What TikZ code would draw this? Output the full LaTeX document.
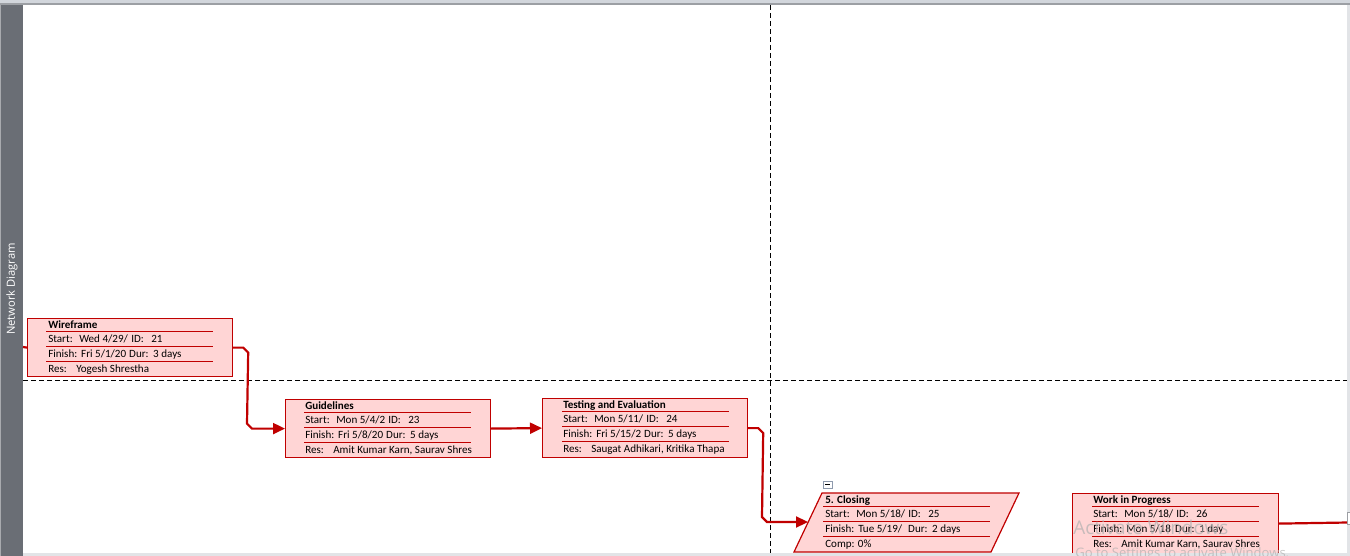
\documentclass[tikz,border=0pt]{standalone}
\usepackage{fontspec}
\setmainfont{Carlito}
\newfontfamily\uifont{Open Sans}
\usetikzlibrary{arrows.meta,calc}

% one screen pixel
\newdimen\pxu \pxu=0.75pt

\definecolor{taskred}{HTML}{C00000}
\definecolor{taskfill}{HTML}{FFD5D5}
\definecolor{sidebar}{HTML}{6A6E75}
\definecolor{sideedge}{HTML}{A8AAAE}
\definecolor{chrome}{HTML}{D2D6DC}
\definecolor{chromeline}{HTML}{9C9FA4}
\definecolor{scrollgray}{HTML}{E2E4E7}
\definecolor{togglegray}{HTML}{8E9AAD}
\definecolor{watermark}{HTML}{B0B0B0}

\tikzset{
  taskbox/.style={draw=taskred, fill=taskfill, line width=0.9pt, inner sep=0pt,
    anchor=north west, minimum width=153.75pt},
  taskshape/.style={draw=taskred, fill=taskfill, line width=0.9pt},
  rowline/.style={draw=taskred, line width=0.75pt},
  rowtext/.style={anchor=base west, inner sep=0pt, font=\fontsize{8.3}{9}\selectfont},
  titletext/.style={rowtext, font=\fontsize{8.3}{9}\selectfont\bfseries},
  link/.style={draw=taskred, line width=1.65pt},
  linkarrow/.style={link, -{Triangle[length=9pt, width=8.25pt]}},
  pagebreak/.style={draw=black, line width=0.75pt, dash pattern=on 3.75pt off 2.25pt},
}

% field columns of a task box
\newcommand\startrow[2]{\makebox[31\pxu][l]{Start:}\makebox[52\pxu][l]{#1}\makebox[20\pxu][l]{ID:}#2}
\newcommand\finishrow[3][48]{\makebox[33\pxu][l]{Finish:}\makebox[#1\pxu][l]{#2}\makebox[24\pxu][l]{Dur:}#3}
\newcommand\resrow[1]{\makebox[28\pxu][l]{Res:}#1}

% #1 name, #2 top-left point, #3 x offset of row rules, #4 x offset of text,
% #5 title, #6 start row, #7 finish row, #8 last row (clipped at the rule end)
\newcommand\taskcontent[8]{%
  \foreach \dy in {13,28,43}
    \draw[rowline] ($(#2)+(#3,\dy)$) -- ++(167,0);
  \node[titletext] (#1-title) at ($(#2)+(#4,10)$) {#5};
  \node[rowtext] (#1-start) at ($(#2)+(#4,24)$) {#6};
  \node[rowtext] (#1-finish) at ($(#2)+(#4,39)$) {#7};
  \begin{scope}
    \clip ($(#2)+(0,44)$) rectangle ($(#2)+(#3+167,60)$);
    \node[rowtext] (#1-res) at ($(#2)+(#4,54)$) {#8};
  \end{scope}
}

\begin{document}
\begin{tikzpicture}[x=0.75pt, y=-0.75pt]
  \useasboundingbox (0,0) rectangle (1350,556);
  \fill[white] (0,0) rectangle (1350,556);

  % window chrome
  \fill[chrome] (0,0) rectangle (1350,4);
  \fill[chromeline] (0,3.5) rectangle (1350,5);
  \fill[sideedge] (0,5) rectangle (1,556);
  \fill[sidebar] (1,5) rectangle (23,556);
  \node[rotate=90, text=white, inner sep=0pt, font=\uifont\fontsize{8.4}{9}\selectfont]
    (viewname) at (12,289) {Network Diagram};

  % page breaks
  \coordinate (hb-l) at (23,380);
  \coordinate (hb-r) at (1350,380);
  \coordinate (vb-t) at (770,5);
  \coordinate (vb-b) at (770,556);
  \draw[pagebreak] (hb-l) -- (hb-r);
  \draw[pagebreak] (vb-t) -- (vb-b);

  % task boxes
  \node[taskbox, minimum height=43.5pt] (wf) at (27,318) {};
  \node[taskbox, minimum height=43.5pt] (gl) at (285,399) {};
  \node[taskbox, minimum height=44.25pt] (te) at (542,398) {};
  \node[taskbox, minimum width=154.5pt, minimum height=45pt] (wip) at (1072,493) {};

  % summary task (parallelogram)
  \coordinate (cl-nw) at (822,493);
  \coordinate (cl-ne) at (1019,493);
  \coordinate (cl-se) at (991,552);
  \coordinate (cl-sw) at (794,552);
  \coordinate (clin) at (808,522);
  \draw[taskshape] (cl-nw) -- (cl-ne) -- (cl-se) -- (cl-sw) -- cycle;

  % collapse toggle of the summary task
  \draw[togglegray, fill=white, line width=0.6pt] (823,481) rectangle (832,488.5);
  \draw[black, line width=0.6pt] (825,484.8) -- (830,484.8);

  % connectors
  \coordinate (wfin) at (23,347);
  \coordinate (wipout) at (1348,522.5);
  \draw[link] (wfin) -- (wf.west);
  \draw[linkarrow] (wf.east) -- ++(10,0) -- ++(5,5)
    -- ($(gl.west)+(-38,-5)$) -- ++(5,5) -- (gl.west);
  \draw[linkarrow] (gl.east) -- (te.west);
  \draw[linkarrow] (te.east) -- ++(10,0) -- ++(5,5)
    -- ($(clin)+(-46,-5)$) -- ++(5,5) -- (clin);
  \draw[link] (wip.east) -- (wipout);

  % box contents
  \taskcontent{wf}{wf.north west}{19}{21}{Wireframe}
    {\startrow{Wed 4/29/}{21}}{\finishrow{Fri 5/1/20}{3 days}}{\resrow{Yogesh Shrestha}}
  \taskcontent{gl}{gl.north west}{19}{20}{Guidelines}
    {\startrow{Mon 5/4/2}{23}}{\finishrow{Fri 5/8/20}{5 days}}{\resrow{Amit Kumar Karn, Saurav Shrestha}}
  \taskcontent{te}{te.north west}{20}{21}{Testing and Evaluation}
    {\startrow{Mon 5/11/}{24}}{\finishrow{Fri 5/15/2}{5 days}}{\resrow{Saugat Adhikari, Kritika Thapa}}
  \taskcontent{cl}{cl-nw}{1}{3}{5. Closing}
    {\startrow{Mon 5/18/}{25}}{\finishrow[50]{Tue 5/19/}{2 days}}{Comp: 0\%}
  \taskcontent{wip}{wip.north west}{20}{21}{Work in Progress}
    {\startrow{Mon 5/18/}{26}}{\finishrow[49]{Mon 5/18}{1 day}}{\resrow{Amit Kumar Karn, Saurav Shrestha}}

  % window edges
  \fill[scrollgray] (1347,5) rectangle (1350,553);
  \draw[chromeline, fill=white, line width=0.6pt] (1347.5,512) rectangle (1351,524);
  \fill[scrollgray] (23,553) rectangle (1350,556);

  % system watermark
  \node[anchor=base west, inner sep=0pt, text=watermark, text opacity=0.7,
    font=\uifont\fontsize{14.2}{16}\selectfont] (wm1) at (1073,534) {Activate Windows};
  \node[anchor=base west, inner sep=0pt, text=watermark, text opacity=0.7,
    font=\uifont\fontsize{9.8}{11}\selectfont] (wm2) at (1075,557) {Go to Settings to activate Windows.};
\end{tikzpicture}
\end{document}
